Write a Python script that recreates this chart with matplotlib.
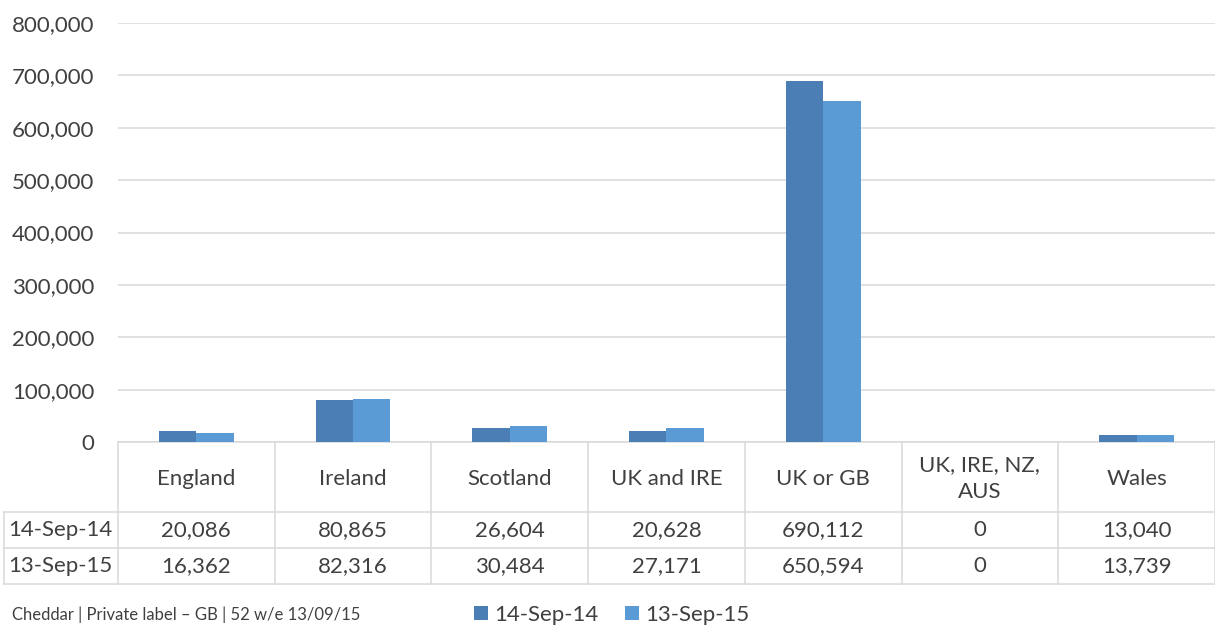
import matplotlib
matplotlib.use("Agg")
import matplotlib.pyplot as plt
from matplotlib.transforms import blended_transform_factory
from matplotlib.patches import Patch

categories = ["England", "Ireland", "Scotland", "UK and IRE", "UK or GB",
              "UK, IRE, NZ,\nAUS", "Wales"]
series_names = ["14-Sep-14", "13-Sep-15"]
sep14 = [20086, 80865, 26604, 20628, 690112, 0, 13040]
sep15 = [16362, 82316, 30484, 27171, 650594, 0, 13739]
y_ticks = [0, 100000, 200000, 300000, 400000, 500000, 600000, 700000, 800000]
caption = "Cheddar | Private label \u2013 GB | 52 w/e 13/09/15"

colors = ["#4A7EB4", "#5B9BD5"]
text_color = "#404040"
grid_color = "#D9D9D9"
font = "Lato"
fs = 16

W, H = 1215, 627
fig = plt.figure(figsize=(W / 100, H / 100), dpi=100)
plt.rcParams["font.family"] = [font, "DejaVu Sans"]

# plot area in pixels
left_px, right_px, top_px, bottom_px = 118, 1215, 23, 442
ax = fig.add_axes([left_px / W, (H - bottom_px) / H,
                   (right_px - left_px) / W, (bottom_px - top_px) / H])

n = len(categories)
x = [i + 0.5 for i in range(n)]
bw = 0.238
ax.bar([v - bw / 2 for v in x], sep14, width=bw, color=colors[0], zorder=3)
ax.bar([v + bw / 2 for v in x], sep15, width=bw, color=colors[1], zorder=3)

ax.set_xlim(0, n)
ax.set_ylim(0, 800000)
ax.set_yticks(y_ticks)
ax.set_yticklabels([f"{t:,}" for t in y_ticks], fontsize=fs, color=text_color)
ax.tick_params(axis="y", length=0, pad=17)
ax.set_xticks([])
ax.grid(axis="y", color=grid_color, lw=1.1, zorder=0)
for s in ax.spines.values():
    s.set_visible(False)

# data table below the plot area
px_per_unit = (right_px - left_px) / n
label_left = -(left_px - 4) / px_per_unit
plot_h = bottom_px - top_px
row_edges_px = [442, 512, 548, 584]
row_edges = [-(r - bottom_px) / plot_h for r in row_edges_px]
tr = blended_transform_factory(ax.transData, ax.transAxes)

line_kw = dict(color=grid_color, lw=1.1, transform=tr, clip_on=False, zorder=1)
ax.plot([0, n], [row_edges[0]] * 2, **line_kw)
for r in row_edges[1:]:
    ax.plot([label_left, n], [r, r], **line_kw)
for i in range(n + 1):
    ax.plot([i, i], [row_edges[0], row_edges[-1]], **line_kw)
ax.plot([label_left, label_left], [row_edges[1], row_edges[-1]], **line_kw)

hdr_y = (row_edges[0] + row_edges[1]) / 2 - 0.004
for xi, cat in zip(x, categories):
    ax.text(xi, hdr_y, cat, ha="center", va="center", fontsize=fs,
            color=text_color, transform=tr, linespacing=1.45)

for k, (name, vals) in enumerate(zip(series_names, [sep14, sep15])):
    yc = (row_edges[k + 1] + row_edges[k + 2]) / 2
    ax.text(label_left + 0.03, yc, name, ha="left", va="center", fontsize=fs,
            color=text_color, transform=tr)
    for xi, v in zip(x, vals):
        ax.text(xi, yc, f"{v:,}", ha="center", va="center", fontsize=fs,
                color=text_color, transform=tr)

fig.text(12 / W, 1 - 615 / H, caption, ha="left", va="center",
         fontsize=12, color=text_color)

handles = [Patch(facecolor=c) for c in colors]
fig.legend(handles, series_names, loc="center", bbox_to_anchor=(612 / W, 1 - 615 / H),
           ncol=2, frameon=False, fontsize=fs, handlelength=0.6, handleheight=0.6,
           handletextpad=0.3, columnspacing=1.2, labelcolor=text_color)

fig.savefig("out.png", dpi=100)
